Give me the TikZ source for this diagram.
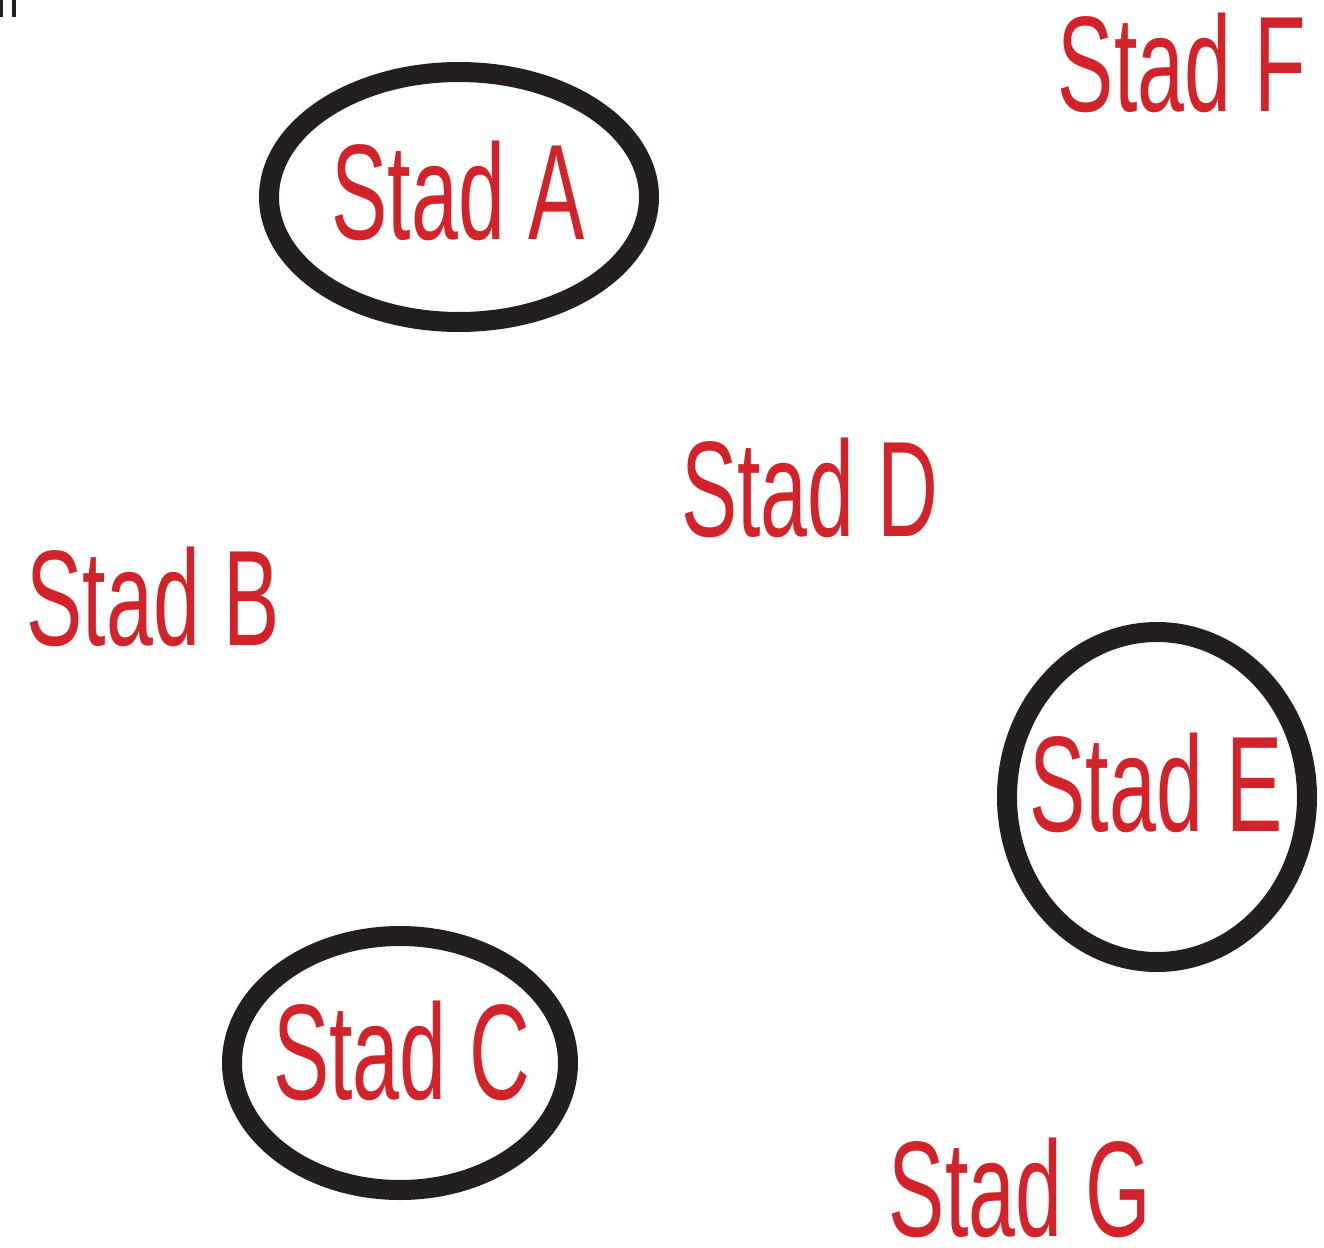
\documentclass[tikz,border=0pt]{standalone}
\usepackage{fontspec}
\newfontfamily\stadfont[FakeStretch=0.62]{Liberation Sans}
\definecolor{stadred}{HTML}{D2232A}
\definecolor{ringblack}{HTML}{231F20}
\tikzset{
  stad/.style={text=stadred, font=\stadfont\fontsize{68}{68}\selectfont, inner sep=0pt, anchor=base},
  ring/.style={draw=ringblack, line width=10pt},
}
\begin{document}
\begin{tikzpicture}[x=0.5pt,y=-0.5pt]
\useasboundingbox (0,0) rectangle (1324,1248);
% corner mark
\fill[ringblack] (0,0) rectangle (3,17);
\fill[ringblack] (12,0) rectangle (16,17);
% rings
\draw[ring] (459,197) ellipse [x radius=190, y radius=125];
\draw[ring] (1157,797) ellipse [x radius=150, y radius=165];
\draw[ring] (400,1063) ellipse [x radius=168, y radius=127];
% labels
\node[stad] (a) at (458,239) {Stad A};
\node[stad] (f) at (1182,111) {Stad F};
\node[stad] (d) at (810,536) {Stad D};
\node[stad] (b) at (153,645) {Stad B};
\node[stad] (e) at (1156,831) {Stad E};
\node[stad] (c) at (402,1099) {Stad C};
\node[stad] (g) at (1020,1236) {Stad G};
\end{tikzpicture}
\end{document}
